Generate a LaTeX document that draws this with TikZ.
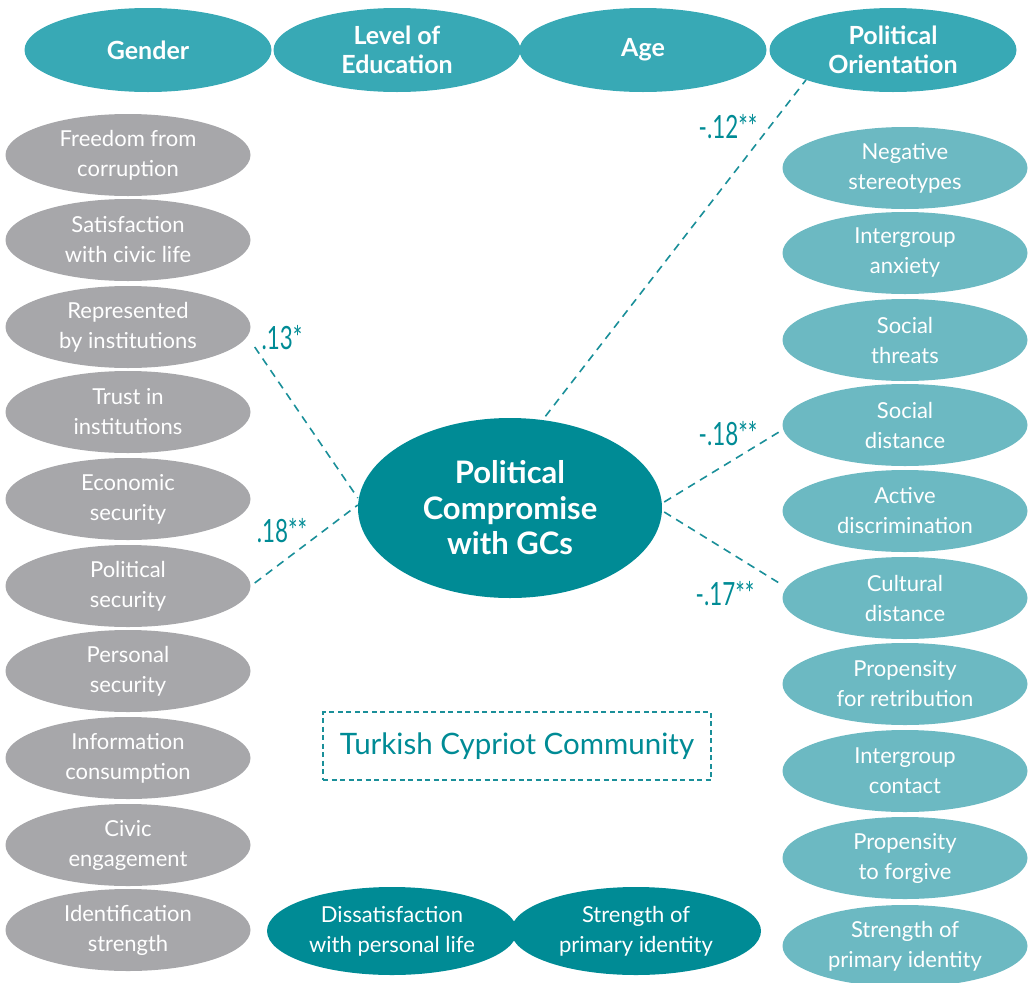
\documentclass[tikz,border=0pt]{standalone}
\usepackage{fontspec}
\setmainfont{Lato}
\usetikzlibrary{shapes.geometric}
\definecolor{topteal}{HTML}{38A9B5}
\definecolor{greyell}{HTML}{A7A7AA}
\definecolor{lightteal}{HTML}{6CB9C2}
\definecolor{darkteal}{HTML}{008B95}
\definecolor{linkteal}{HTML}{1A8F99}
\tikzset{
  ell/.style={ellipse, inner sep=0pt, minimum width=245pt, minimum height=82pt, text=white, align=center, font=\fontsize{22}{30}\selectfont},
  topell/.style={ell, fill=topteal, minimum width=247pt, minimum height=84pt, font=\bfseries\fontsize{25}{29}\selectfont},
  greyell/.style={ell, fill=greyell},
  rightell/.style={ell, fill=lightteal},
  darkell/.style={ell, fill=darkteal, minimum width=250pt, minimum height=88pt},
  link/.style={draw=linkteal, line width=1.6pt, dash pattern=on 8pt off 6pt},
  coef/.style={text=darkteal, font=\fontsize{32}{34}\selectfont, inner sep=0pt}
}
\newcommand{\cf}[1]{\scalebox{0.7}[1]{#1}}
\begin{document}
\begin{tikzpicture}[x=1pt,y=-1pt]
\useasboundingbox (0,0) rectangle (1029,983);
% top row
\node[topell] (gender) at (148,50) {Gender};
\node[topell] (edu) at (397,50) {Level of\\Education};
\node[topell] (age) at (643,50) {Age};
\node[topell] (polor) at (893,50) {Political\\Orientation};
% left column
\node[greyell] (l1) at (128,155) {Freedom from\\corruption};
\node[greyell] (l2) at (128,240) {Satisfaction\\with civic life};
\node[greyell] (l3) at (128,327) {Represented\\by institutions};
\node[greyell] (l4) at (128,412) {Trust in\\institutions};
\node[greyell] (l5) at (128,499) {Economic\\security};
\node[greyell] (l6) at (128,586) {Political\\security};
\node[greyell] (l7) at (128,671) {Personal\\security};
\node[greyell] (l8) at (128,758) {Information\\consumption};
\node[greyell] (l9) at (128,845) {Civic\\engagement};
\node[greyell] (l10) at (128,930) {Identification\\strength};
% right column
\node[rightell] (r1) at (905,168) {Negative\\stereotypes};
\node[rightell] (r2) at (905,253) {Intergroup\\anxiety};
\node[rightell] (r3) at (905,340) {Social\\threats};
\node[rightell] (r4) at (905,425) {Social\\distance};
\node[rightell] (r5) at (905,511) {Active\\discrimination};
\node[rightell] (r6) at (905,598) {Cultural\\distance};
\node[rightell] (r7) at (905,684) {Propensity\\for retribution};
\node[rightell] (r8) at (905,771) {Intergroup\\contact};
\node[rightell] (r9) at (905,858) {Propensity\\to forgive};
\node[rightell] (r10) at (905,946) {Strength of\\primary identity};
% bottom
\node[darkell] (b1) at (392,931) {Dissatisfaction\\with personal life};
\node[darkell] (b2) at (636,931) {Strength of\\primary identity};
% central
\node[ellipse, fill=darkteal, inner sep=0pt, minimum width=304pt, minimum height=180pt, text=white, align=center, font=\bfseries\fontsize{31}{35.5}\selectfont] (central) at (510,508) {Political\\Compromise\\with GCs};
% box
\node[draw=linkteal, line width=1.6pt, dash pattern=on 5pt off 3.5pt, minimum width=388pt, minimum height=68pt, inner sep=0pt, text=darkteal, font=\fontsize{29.5}{32}\selectfont] (tcc) at (517,746) {Turkish Cypriot Community};
% connectors
\draw[link] ([shift={(0,-4)}]central.68) -- (polor.199);
\draw[link] ([shift={(4,20)}]l3.east) -- ([shift={(0,-10)}]central.west);
\draw[link] ([shift={(4,-3)}]l6.east) -- ([shift={(0,-3)}]central.west);
\draw[link] ([shift={(2,-6)}]central.east) -- ([shift={(0,5)}]r4.west);
\draw[link] ([shift={(2,4)}]central.east) -- ([shift={(0,-13)}]r6.west);
% coefficients
\node[coef] (c1) at (728,127) {\cf{-.12**}};
\node[coef] (c2) at (282,338) {\cf{.13*}};
\node[coef] (c3) at (282,531) {\cf{.18**}};
\node[coef] (c4) at (728,434) {\cf{-.18**}};
\node[coef] (c5) at (725,594) {\cf{-.17**}};
\end{tikzpicture}
\end{document}
